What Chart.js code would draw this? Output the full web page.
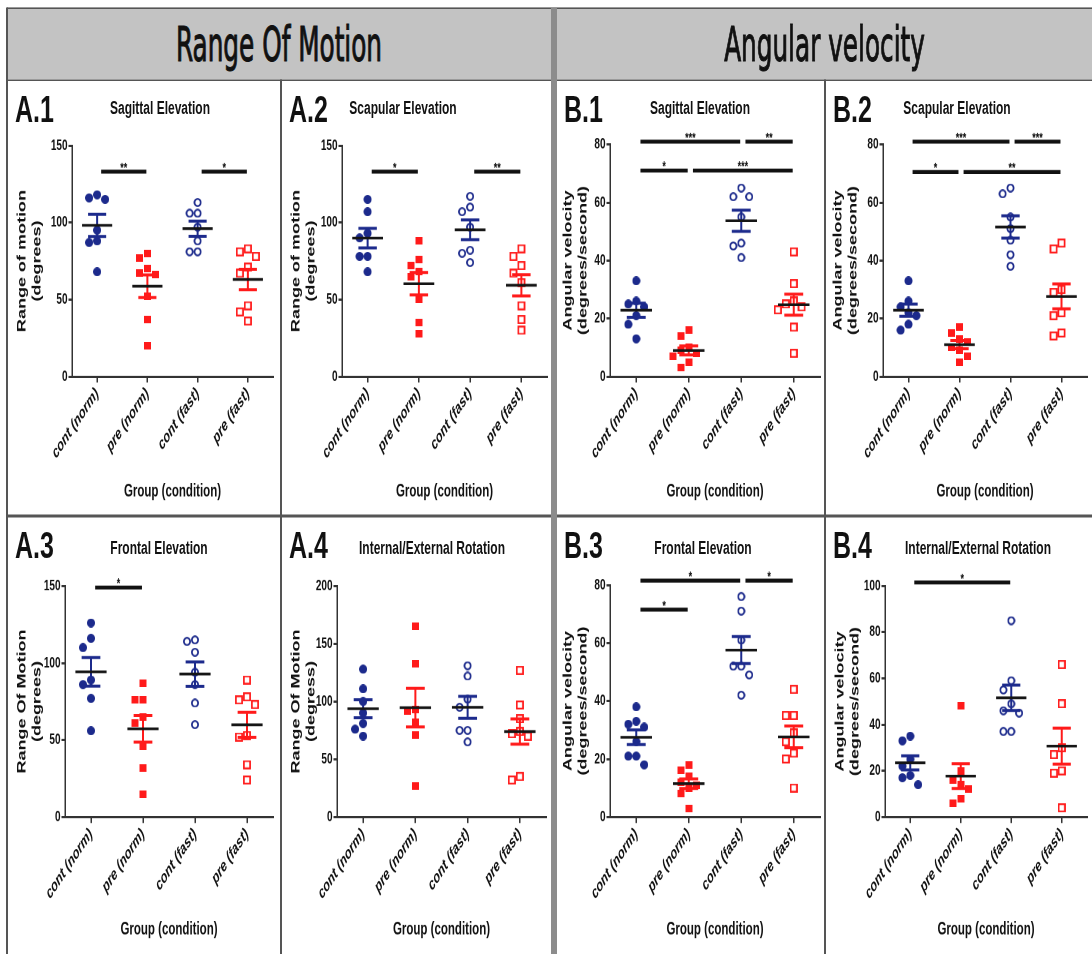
<html>
<head>
<script src="https://cdn.jsdelivr.net/npm/chart.js@4.4.3/dist/chart.umd.min.js"></script>
<style>
  body { margin: 0; background: #fff; overflow: hidden; }
  /* the whole figure is laid out squat and stretched tall */
  #fig { position: absolute; left: 0; top: 0; width: 1092px; height: 636px; transform: scaleY(1.5); transform-origin: 0 0; }
  .hd { position: absolute; background: #c3c3c3; color: #111; display: flex; align-items: center; justify-content: center;
        font-family: 'Liberation Sans Narrow', 'DejaVu Sans Condensed', 'Liberation Sans', sans-serif; font-size: 27.5px; }
  .hd span { display: inline-block; transform: scaleY(1.15); -webkit-text-stroke: 0.6px #111; }
  .ln { position: absolute; background: #555; }
  .lab { position: absolute; font: bold 25px 'Liberation Sans', Arial, sans-serif; line-height: 1; color: #111; }
  .ttl { position: absolute; width: 240px; text-align: center; font: bold 12px 'Liberation Sans', Arial, sans-serif; line-height: 1; color: #111; }
  canvas { position: absolute; }
</style>
</head>
<body>
<div id="fig"></div>
<script>
const S = 1.5;

const groups = ['cont (norm)', 'pre (norm)', 'cont (fast)', 'pre (fast)'];

// range of motion, degrees (cont norm, pre norm, cont fast, pre fast)
const romSagittal = [[118, 116, 115, 95, 88, 87, 68], [80, 77, 70, 67, 66, 52, 37, 20], [113, 106, 106, 97, 88, 81, 81], [83, 81, 78, 71, 67, 46, 42, 36]];
const romScapular = [[115, 107, 93, 90, 78, 78, 68], [88, 76, 72, 68, 65, 50, 35, 28], [117, 110, 107, 97, 82, 80, 74], [83, 78, 72, 67, 61, 46, 37, 30]];
const romFrontal = [[126, 116, 110, 89, 86, 77, 56], [87, 76, 76, 65, 61, 46, 32, 15], [115, 114, 107, 94, 86, 74, 60], [89, 78, 76, 73, 53, 52, 34, 24]];
const romRotation = [[128, 111, 100, 90, 81, 76, 70], [165, 133, 93, 92, 82, 71, 27], [131, 122, 102, 95, 75, 75, 65], [127, 97, 85, 74, 72, 70, 35, 32]];

// angular velocity, degrees/second
const velSagittal = [[33, 26, 25, 24, 21, 18, 13], [16, 14, 10, 9, 8, 7, 5, 3], [65, 62, 62, 55, 46, 45, 41], [43, 32, 26, 25, 24, 23, 17, 8]];
const velScapular = [[33, 26, 24, 22, 21, 18, 16], [17, 15, 13, 12, 10, 9, 7, 5], [65, 63, 55, 51, 47, 42, 38], [46, 44, 30, 29, 22, 21, 15, 14]];
const velFrontal = [[38, 33, 32, 31, 26, 21, 21, 18], [18, 16, 14, 12, 11, 10, 8, 3], [76, 71, 61, 52, 52, 49, 42], [44, 35, 35, 29, 26, 22, 20, 10]];
const velRotation = [[35, 33, 25, 22, 18, 17, 14], [48, 20, 16, 14, 12, 8, 6], [85, 59, 55, 49, 46, 45, 37, 37], [66, 49, 30, 27, 20, 19, 4]];

// significance bars: [from group, to group, level, stars]
const romSagittalSig = [[0, 1, 133, '**'], [2, 3, 133, '*']];
const romScapularSig = [[0, 1, 133, '*'], [2, 3, 133, '**']];
const romFrontalSig = [[0, 1, 149, '*']];
const velSagittalSig = [[0, 2, 81, '***'], [2, 3, 81, '**'], [0, 1, 71, '*'], [1, 3, 71, '***']];
const velScapularSig = [[0, 2, 81, '***'], [2, 3, 81, '***'], [0, 1, 70.5, '*'], [1, 3, 70.5, '**']];
const velFrontalSig = [[0, 2, 81.5, '*'], [2, 3, 81.5, '*'], [0, 1, 71.5, '*']];
const velRotationSig = [[0, 2, 101.5, '*']];

const blue = '#1c2a8c', red = '#ff1a1a';
const colors = [blue, red, blue, red];
const shapes = ['dot', 'box', 'ring', 'sq'];

const romTitle = ['Range of motion', '(degrees)'];
const velTitle = ['Angular velocity', '(degrees/second)'];

const panels = [
  { label: 'A.1', title: 'Sagittal Elevation', data: romSagittal, sig: romSagittalSig, ymax: 150, step: 50, ytitle: romTitle, box: [7, 80, 274, 436], plot: [72, 146, 273, 377], tx: 160, ty: 114, yt: 15 },
  { label: 'A.2', title: 'Scapular Elevation', data: romScapular, sig: romScapularSig, ymax: 150, step: 50, ytitle: romTitle, box: [281, 80, 271, 436], plot: [342, 146, 547, 377], tx: 403, ty: 114, yt: 15 },
  { label: 'B.1', title: 'Sagittal Elevation', data: velSagittal, sig: velSagittalSig, ymax: 80, step: 20, ytitle: velTitle, box: [556, 80, 269, 436], plot: [610, 145, 821, 377], tx: 700, ty: 114, yt: 12 },
  { label: 'B.2', title: 'Scapular Elevation', data: velScapular, sig: velScapularSig, ymax: 80, step: 20, ytitle: velTitle, box: [825, 80, 267, 436], plot: [883, 145, 1091, 377], tx: 957, ty: 114, yt: 13 },
  { label: 'A.3', title: 'Frontal Elevation', data: romFrontal, sig: romFrontalSig, ymax: 150, step: 50, ytitle: ['Range Of Motion', '(degrees)'], box: [7, 516, 274, 438], plot: [65, 586, 273, 817], tx: 159, ty: 554, yt: 15 },
  { label: 'A.4', title: 'Internal/External Rotation', data: romRotation, sig: [], ymax: 200, step: 50, ytitle: ['Range Of Motion', '(degress)'], box: [281, 516, 271, 438], plot: [337, 586, 546, 817], tx: 432, ty: 554, yt: 15 },
  { label: 'B.3', title: 'Frontal Elevation', data: velFrontal, sig: velFrontalSig, ymax: 80, step: 20, ytitle: velTitle, box: [556, 516, 269, 438], plot: [610, 585, 821, 817], tx: 703, ty: 554, yt: 12 },
  { label: 'B.4', title: 'Internal/External Rotation', data: velRotation, sig: velRotationSig, ymax: 100, step: 20, ytitle: velTitle, box: [825, 516, 267, 438], plot: [885, 586, 1091, 817], tx: 978, ty: 554, yt: 15 }
];

Chart.defaults.font.family = "'Liberation Sans', Arial, sans-serif";
Chart.defaults.color = '#111';

const fig = document.getElementById('fig');

function div(cls, x, y, w, h, text) {
  const d = document.createElement('div');
  d.className = cls;
  d.style.left = x + 'px';
  d.style.top = y + 'px';
  if (w != null) d.style.width = w + 'px';
  if (h != null) d.style.height = h + 'px';
  if (text) d.textContent = text;
  fig.appendChild(d);
  return d;
}
const hline = (x1, x2, y, t) => div('ln', x1, (y - t / 2) / S, x2 - x1, t / S);
const vline = (x, y1, y2, t) => div('ln', x - t / 2, y1 / S, t, (y2 - y1) / S);

// frame and the two section headers
div('hd', 7, 8 / S, 544, 72 / S).innerHTML = '<span>Range Of Motion</span>';
div('hd', 557, 8 / S, 535, 72 / S).innerHTML = '<span>Angular velocity</span>';
hline(7, 1092, 8, 2);
hline(7, 1092, 80, 2);
hline(7, 1092, 516, 2);
vline(7, 8, 954, 2);
vline(281, 80, 954, 2);
vline(825, 80, 954, 2);
div('ln', 551, 8 / S, 6, 946 / S).style.background = '#8c8c8c';

const mean = a => a.reduce((s, v) => s + v, 0) / a.length;
const sem = a => {
  const m = mean(a);
  return Math.sqrt(a.reduce((s, v) => s + (v - m) ** 2, 0) / (a.length - 1)) / Math.sqrt(a.length);
};

// spread points sideways when they would overlap (in screen px)
function swarm(vals, pxPerVal, step) {
  const placed = [];
  const out = new Array(vals.length).fill(0);
  vals.map((v, i) => i).sort((a, b) => vals[b] - vals[a]).forEach(i => {
    const y = vals[i] * pxPerVal;
    for (let k = 0; k < 12; k++) {
      const slot = k === 0 ? 0 : (k % 2 ? -(k + 1) / 2 : k / 2);
      if (!placed.some(q => q.slot === slot && Math.abs(q.y - y) < 10)) {
        placed.push({ slot, y });
        out[i] = slot * step;
        break;
      }
    }
  });
  return out;
}

// marker images drawn flat so they come out round after the stretch
function marker(kind, color) {
  const k = 4;
  const round = kind === 'dot' || kind === 'ring';
  const w = round ? 8 : (kind === 'box' ? 7 : 8);
  const h = round ? 6 : (kind === 'box' ? 5 : 6);
  const c = document.createElement('canvas');
  c.width = w * k;
  c.height = h * k;
  const g = c.getContext('2d');
  g.scale(k, k / S);
  const vw = w, vh = h * S;
  g.fillStyle = color;
  g.strokeStyle = color;
  g.lineWidth = 1.7;
  if (kind === 'dot') {
    g.beginPath(); g.ellipse(vw / 2, vh / 2, vw / 2, vh / 2, 0, 0, Math.PI * 2); g.fill();
  } else if (kind === 'ring') {
    g.beginPath(); g.ellipse(vw / 2, vh / 2, vw / 2 - 0.9, vh / 2 - 0.9, 0, 0, Math.PI * 2);
    g.fillStyle = '#fff'; g.fill(); g.stroke();
  } else if (kind === 'box') {
    g.fillRect(0, 0, vw, vh);
  } else {
    g.fillStyle = '#fff'; g.fillRect(0, 0, vw, vh);
    g.strokeRect(0.9, 0.9, vw - 1.8, vh - 1.8);
  }
  return new Promise(res => {
    const img = new Image(w, h);
    img.onload = () => res(img);
    img.src = c.toDataURL();
  });
}

const sigBars = {
  id: 'sigBars',
  afterDatasetsDraw(chart, args, opts) {
    const { ctx, scales: { x, y } } = chart;
    ctx.save();
    ctx.strokeStyle = '#111';
    ctx.fillStyle = '#111';
    ctx.lineWidth = 2.6;
    ctx.font = "bold 9px 'Liberation Sans', Arial, sans-serif";
    ctx.textAlign = 'center';
    ctx.textBaseline = 'alphabetic';
    for (const [a, b, v, stars] of opts.bars) {
      const x1 = x.getPixelForValue(a + 0.08), x2 = x.getPixelForValue(b - 0.02), yy = y.getPixelForValue(v);
      ctx.beginPath(); ctx.moveTo(x1, yy); ctx.lineTo(x2, yy); ctx.stroke();
      ctx.fillText(stars, (x1 + x2) / 2, yy + 0.5);
    }
    ctx.restore();
  }
};

function makeChart(p, marks) {
  const [bx, by, bw, bh] = p.box;
  const [pl, pt, pr, pb] = p.plot;
  const H = Math.round(bh / S);
  const top = (pt - by) / S, bottom = (pb - by) / S;
  const band = (pr - pl) / 4;
  const pxPerVal = (pb - pt) / p.ymax;

  div('lab', bx + 8, (by + 42) / S - 0.8465 * 25, null, null, p.label);
  div('ttl', p.tx - 120, p.ty / S - 0.8465 * 12, null, null, p.title);

  const cv = document.createElement('canvas');
  cv.width = bw;
  cv.height = H;
  cv.style.left = bx + 'px';
  cv.style.top = (by / S) + 'px';
  fig.appendChild(cv);

  const means = [], sems = [], pts = [];
  p.data.forEach((vals, g) => {
    const m = mean(vals), s = sem(vals);
    const offs = swarm(vals, pxPerVal, 8 / band);
    pts.push({
      data: vals.map((v, i) => ({ x: g + offs[i], y: v })),
      pointStyle: marks[g], pointRadius: 4, showLine: false
    });
    sems.push({
      data: [
        { x: g - 0.18, y: m + s }, { x: g + 0.18, y: m + s }, { x: g + 0.18, y: null },
        { x: g, y: m + s }, { x: g, y: m - s }, { x: g, y: null },
        { x: g - 0.18, y: m - s }, { x: g + 0.18, y: m - s }
      ],
      showLine: true, borderColor: colors[g], borderWidth: 2, pointRadius: 0
    });
    means.push({
      data: [{ x: g - 0.3, y: m }, { x: g + 0.3, y: m }],
      showLine: true, borderColor: '#151515', borderWidth: 1.8, pointRadius: 0
    });
  });

  new Chart(cv, {
    type: 'scatter',
    data: { datasets: [...means, ...sems, ...pts] },
    options: {
      responsive: false,
      devicePixelRatio: 2,
      animation: false,
      events: [],
      layout: { padding: { left: 0, top: top, right: bx + bw - pr, bottom: 0 } },
      plugins: { legend: { display: false }, tooltip: { enabled: false }, sigBars: { bars: p.sig } },
      scales: {
        x: {
          type: 'linear', min: -0.5, max: 3.5,
          afterBuildTicks: s => { s.ticks = groups.map((_, i) => ({ value: i })); },
          afterFit: s => { s.height = H - bottom; },
          ticks: {
            callback: v => groups[v], minRotation: 45, maxRotation: 45, autoSkip: false, padding: 1,
            color: '#111', font: { size: 11, weight: 'bold', style: 'italic' }
          },
          grid: { drawOnChartArea: false, drawTicks: true, tickLength: 4, color: '#333', lineWidth: 1.5 },
          border: { color: '#333', width: 1.5 },
          title: { display: true, text: 'Group (condition)', color: '#111', font: { size: 11.5, weight: 'bold' }, padding: { top: 0, bottom: 9.3 } }
        },
        y: {
          min: 0, max: p.ymax,
          afterFit: s => { s.width = pl - bx; },
          ticks: { stepSize: p.step, padding: 1, color: '#111', font: { size: 10, weight: 'bold' } },
          grid: { drawOnChartArea: false, drawTicks: true, tickLength: 3.5, color: '#333', lineWidth: 1.5 },
          border: { color: '#333', width: 1.5 },
          title: { display: true, text: p.ytitle, color: '#111', font: { size: 12, weight: 'bold', lineHeight: 1.25 }, padding: { top: p.yt - 7.5, bottom: 0 } }
        }
      }
    },
    plugins: [sigBars]
  });
}

Promise.all(shapes.map((k, i) => marker(k, colors[i]))).then(marks => {
  panels.forEach(p => makeChart(p, marks));
});
</script>
</body>
</html>
